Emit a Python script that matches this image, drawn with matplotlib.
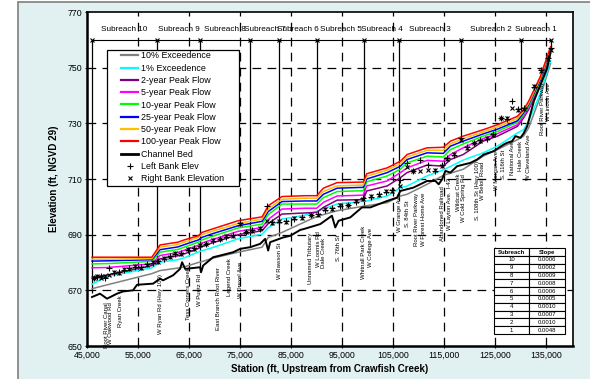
import numpy as np
import matplotlib
matplotlib.use('Agg')
import matplotlib.pyplot as plt
from matplotlib.patches import Rectangle
from matplotlib.lines import Line2D
from matplotlib.ticker import FuncFormatter

plt.rcParams['font.family'] = ['Liberation Sans', 'DejaVu Sans']

# ---------------- data ----------------
stations = [46000, 49000, 57700, 59300, 62800, 64200, 66800, 67500, 69500, 74600, 79300, 80500,
            83200, 87700, 90000, 91300, 94000, 99100, 99800, 103800, 106400, 107700, 111600,
            114800, 116200, 118700, 122600, 125400, 129300, 130500, 131500, 133800, 135800]

q100 = [681.9, 681.9, 681.9, 686.3, 687.3, 688.2, 689.6, 690.8, 692.0, 695.0, 696.4, 700.4,
        703.7, 704.0, 704.0, 706.7, 708.7, 708.9, 711.9, 714.0, 716.4, 718.8, 721.2,
        721.4, 723.6, 725.4, 727.7, 729.5, 732.5, 734.9, 737.9, 746.8, 757.5]
q50 = [681.2, 681.2, 681.4, 685.5, 686.5, 687.4, 689.0, 690.0, 691.2, 694.0, 695.6, 699.3,
       702.7, 703.1, 703.1, 705.5, 707.5, 707.8, 711.0, 713.2, 715.5, 717.9, 720.3,
       720.3, 722.6, 724.5, 726.9, 728.7, 731.7, 734.3, 737.2, 746.2, 757.0]
q25 = [680.5, 680.6, 681.0, 684.6, 685.6, 686.5, 688.1, 689.0, 690.3, 693.2, 694.8, 698.3,
       701.9, 702.1, 702.1, 704.5, 706.7, 707.0, 710.0, 712.3, 714.6, 717.0, 719.4,
       719.2, 721.8, 723.6, 726.2, 727.9, 730.9, 733.7, 736.7, 745.6, 756.5]
q10 = [679.5, 679.6, 680.4, 683.7, 684.7, 685.6, 687.3, 688.1, 689.4, 692.4, 693.8, 697.2,
       701.0, 701.0, 701.0, 703.3, 705.5, 705.8, 709.0, 711.1, 713.5, 715.8, 718.2,
       717.9, 720.6, 722.6, 725.4, 727.1, 730.4, 733.1, 736.1, 745.0, 756.0]
q5 = [678.1, 678.2, 679.5, 682.5, 683.6, 684.5, 686.2, 687.0, 688.2, 691.2, 692.6, 695.5,
      699.2, 699.5, 699.5, 701.6, 703.9, 704.2, 707.5, 709.3, 712.3, 714.0, 716.7,
      716.4, 718.8, 721.2, 724.5, 726.3, 729.5, 732.5, 735.5, 744.4, 755.5]
q2 = [674.8, 675.5, 678.9, 681.3, 682.4, 683.2, 685.0, 685.8, 687.0, 690.0, 691.4, 694.0,
      697.4, 697.8, 698.0, 699.8, 702.4, 702.6, 705.7, 707.5, 710.5, 712.3, 715.0,
      714.6, 717.0, 718.8, 723.6, 725.4, 728.9, 731.9, 734.9, 743.8, 755.0]
exc1 = [672.2, 675.0, 678.1, 680.1, 681.0, 681.8, 683.8, 684.2, 685.3, 688.5, 690.2, 692.5,
        695.6, 697.0, 698.4, 699.2, 701.0, 702.0, 702.1, 703.9, 706.9, 707.5, 711.1,
        713.3, 714.5, 716.8, 719.4, 721.8, 726.5, 727.7, 730.7, 740.8, 752.5]
exc10 = [670.6, 672.0, 676.0, 677.1, 678.0, 678.5, 680.0, 680.3, 681.5, 683.7, 685.5, 689.0,
         690.8, 694.6, 696.5, 697.2, 698.6, 700.2, 700.4, 701.5, 703.9, 704.5, 708.1,
         711.3, 712.1, 713.5, 718.2, 720.6, 724.1, 725.4, 728.3, 739.6, 751.5]

bed_sta = [45980, 47550, 48920, 50880, 52060, 54020, 54800, 57940, 59310, 59900, 61860, 63230,
           63630, 64220, 67160, 67350, 67750, 69710, 71080, 73630, 75000, 76960, 78920, 79900,
           80490, 80880, 83430, 84810, 86770, 87420, 90690, 92980, 93630, 94280, 96570, 98870,
           100500, 103770, 105730, 106380, 108930, 111620, 113240, 113890, 114560, 115200,
           116180, 117500, 120100, 121420, 122710, 124670, 126640, 127300, 128280, 128930,
           129910, 130560, 131220, 132520, 133830, 135140, 135790]
bed_elev = [667.6, 668.8, 667.0, 668.8, 669.6, 670.0, 672.0, 672.4, 674.2, 673.6, 675.4, 677.7,
            680.1, 677.7, 678.3, 676.5, 678.9, 681.9, 682.5, 683.7, 684.9, 685.5, 686.7, 688.5,
            684.3, 687.3, 689.0, 689.6, 691.7, 692.0, 693.8, 696.8, 692.6, 695.0, 696.2, 699.8,
            699.8, 702.1, 703.3, 705.7, 706.9, 709.3, 709.3, 708.1, 709.9, 712.9,
            712.3, 714.6, 715.8, 717.0, 718.8, 720.0, 722.4, 723.0, 723.6, 725.4,
            724.8, 726.5, 728.9, 737.9, 743.8, 749.8, 755.5]

bank_sta = [46300, 47000, 47800, 48600, 49400, 50300, 51200, 52200, 53300, 54400, 55600, 56800,
            57900, 59000, 60000, 61200, 62300, 63500, 64800, 66000, 67200, 68400, 69700, 71000,
            72300, 73600, 75000, 76200, 77400, 78800, 80200, 81200, 82600, 84000, 85600, 87200,
            88800, 90200, 91600, 93000, 94600, 96200, 97700, 99100, 100600, 102200, 103600,
            104800, 106300, 107700, 108800, 110200, 111800, 113200, 114500, 115600, 116800,
            118200, 119500, 120800, 122000, 123300, 124600, 126000, 127300, 128300, 129400,
            130600, 132600, 134000, 135300, 135800]
left_bank = [674.6, 674.8, 675.0, 674.6, 678.0, 676.2, 676.5, 677.2, 678.0, 678.3, 678.5, 679.3,
             680.0, 680.6, 681.2, 682.2, 683.0, 683.5, 684.5, 685.3, 686.0, 686.8, 687.8, 688.6,
             689.2, 690.0, 694.2, 690.8, 691.5, 692.0, 700.4, 694.4, 694.6, 695.0, 695.6, 696.2,
             696.9, 697.5, 698.8, 699.6, 700.2, 700.8, 701.8, 703.0, 703.6, 704.6, 705.3,
             706.0, 709.8, 715.8, 712.8, 716.9, 715.0, 712.9, 715.2, 717.6, 718.8,
             724.8, 721.5, 722.8, 724.0, 724.5, 726.0, 731.8, 731.5, 738.0, 735.0,
             735.5, 743.2, 749.2, 753.3, 756.9]
right_bank = [674.3, 675.2, 674.6, 675.0, 675.5, 676.6, 676.2, 677.6, 677.7, 678.7, 678.2, 679.0,
              680.3, 680.2, 681.5, 681.8, 683.3, 683.2, 684.9, 685.0, 686.3, 686.5, 688.1, 688.3,
              689.5, 689.7, 693.8, 691.1, 691.2, 692.3, 695.0, 694.1, 694.9, 694.7, 695.9, 695.9,
              697.2, 697.2, 699.1, 699.3, 700.5, 700.5, 702.1, 702.7, 703.9, 704.3, 705.6,
              705.7, 707.5, 714.2, 712.9, 713.0, 713.2, 713.1, 714.6, 717.2, 719.1,
              724.0, 721.2, 723.1, 723.7, 724.8, 725.7, 732.0, 731.9, 735.5, 734.7,
              735.0, 743.5, 748.8, 753.0, 756.5]

boundaries = [46000, 58700, 67200, 77000, 82650, 90100, 99300, 106200, 118300, 130100, 135800]
boundary_bottom = [669.0, 679.5, 676.5, 685.5, 689.5, 704.0, 699.8, 702.0, 725.0, 729.5, 757.0]
subreach_names = ['Subreach 10', 'Subreach 9', 'Subreach 8', 'Subreach 7', 'Subreach 6',
                  'Subreach 5', 'Subreach 4', 'Subreach 3', 'Subreach 2', 'Subreach 1']
subreach_line_elev = 760
subreach_label_elev = 763.6

road_names = ['Root River Canal', 'W Oakwood Rd', 'Ryan Creek', 'W Ryan Rd (Hwy 100)',
              'Tess Corners Creek', 'W Puetz Rd', 'East Branch Root River', 'Legend Creek',
              'W Drexel Ave.', 'W Rawson St', 'Unnamed Tributary', 'W Loomis Rd', 'Dale Creek',
              'S. 76th St', 'Whitnall Park Creek', 'W College Ave', 'W Grange Ave', 'S. 84th St',
              'Root River Parkway', 'W Forest Home Ave', 'Abandoned Railroad', 'W Layton Ave.  I-43',
              'Wildcat Creek', 'W Cold Spring Rd', 'S. 108th St (Hwy 100)', 'W Beloit Road',
              'W Morgan Ave', 'S. 116th St', 'National Ave', 'Hale Creek', 'W Cleveland Ave',
              'Root River Parkway', 'W Lincoln Ave']
road_sta = [48900, 49700, 51500, 59300, 64800, 67000, 70700, 73000, 75000, 82800, 88700, 90300,
            91300, 94200, 99100, 100500, 106200, 107700, 109500, 110900, 114700, 116000, 117800,
            118700, 121400, 122400, 125300, 126600, 128300, 129900, 131500, 134200, 135400]
road_top = [665.7, 665.7, 668.2, 676.0, 678.2, 676.0, 678.2, 681.4, 681.0, 687.3, 690.8, 691.4,
            689.0, 690.0, 693.2, 692.6, 705.1, 702.1, 705.1, 705.1, 707.5, 710.5, 711.9,
            711.9, 716.4, 716.4, 720.0, 720.6, 723.6, 723.6, 726.0, 745.0, 744.4]

table_subreach = ['10', '9', '8', '7', '6', '5', '4', '3', '2', '1']
table_slope = ['0.0006', '0.0002', '0.0009', '0.0008', '0.0006', '0.0005', '0.0010',
               '0.0007', '0.0010', '0.0048']

x_ticks = [45000, 55000, 65000, 75000, 85000, 95000, 105000, 115000, 125000, 135000]
y_ticks = [650, 670, 690, 710, 730, 750, 770]

# ---------------- figure ----------------
W, H = 590, 379
fig = plt.figure(figsize=(W / 100, H / 100), dpi=100)
fig.patch.set_facecolor('white')
fig.patches.append(Rectangle((18 / W, -0.02), 1.05, 1 - 2 / H + 0.02, transform=fig.transFigure,
                             facecolor='#e1f1f1', edgecolor='#7f7f7f', lw=1.2, zorder=-10))

ax = fig.add_axes([87 / W, 33 / H, 486 / W, 334 / H])
ax.set_facecolor('white')
ax.set_xlim(45000, 140200)
ax.set_ylim(650, 770)

dash = (0, (7, 5))
for xv in x_ticks[1:]:
    ax.axvline(xv, color='k', lw=0.9, ls=dash, zorder=1)
for yv in y_ticks[1:-1]:
    ax.axhline(yv, color='k', lw=0.9, ls=dash, zorder=1)

# subreach markers
ax.vlines(boundaries, boundary_bottom, subreach_line_elev, colors='k', lw=0.9, zorder=2)
ax.plot([boundaries[0], boundaries[-1]], [subreach_line_elev] * 2, color='k', lw=0.8, zorder=2)
ax.plot(boundaries, [subreach_line_elev] * len(boundaries), ls='none', marker='x', ms=3.5,
        mew=0.8, color='k', zorder=3)
for i, name in enumerate(subreach_names):
    xc = 0.5 * (boundaries[i] + boundaries[i + 1])
    ax.text(xc, subreach_label_elev, name, ha='center', va='center', fontsize=5.9, zorder=4)

series = [
    ('10% Exceedence', exc10, '#808080'),
    ('1% Exceedence', exc1, '#00ffff'),
    ('2-year Peak Flow', q2, '#800080'),
    ('5-year Peak Flow', q5, '#ff00ff'),
    ('10-year Peak Flow', q10, '#00ff00'),
    ('25-year Peak Flow', q25, '#0000ff'),
    ('50-year Peak Flow', q50, '#ffc000'),
    ('100-year Peak Flow', q100, '#ff0000'),
]
handles = []
for lab, vals, col in series:
    ax.plot(stations, vals, color=col, lw=1.1, zorder=5)
    handles.append(Line2D([], [], color=col, lw=1.6, label=lab))

ax.plot(bed_sta, bed_elev, color='k', lw=1.4, zorder=6)
handles.append(Line2D([], [], color='k', lw=2.0, label='Channel Bed'))
ax.plot(bank_sta, left_bank, ls='none', marker='+', ms=4, mew=0.8, color='k', zorder=7)
ax.plot(bank_sta, right_bank, ls='none', marker='x', ms=3.5, mew=0.8, color='k', zorder=7)
handles.append(Line2D([], [], ls='none', marker='+', ms=4, mew=0.8, color='k', label='Left Bank Elev'))
handles.append(Line2D([], [], ls='none', marker='x', ms=3.5, mew=0.8, color='k', label='Right Bank Elevation'))

for name, s, t in zip(road_names, road_sta, road_top):
    ax.text(s, t, name, rotation=90, ha='center', va='top', fontsize=4.3, zorder=8)

# legend: custom frame box + frameless legend entries
ax.add_patch(Rectangle((0.0412, 0.479), 0.2716, 0.4072, transform=ax.transAxes,
                       facecolor='white', edgecolor='k', lw=0.9, zorder=19))
leg = ax.legend(handles=handles, loc='upper left', bbox_to_anchor=(0.070, 0.882),
                fontsize=6.4, frameon=False, borderaxespad=0, borderpad=0,
                handlelength=1.95, labelspacing=0.37, handletextpad=0.3)
leg.set_zorder(20)

# slope table
cells = [[a, b] for a, b in zip(table_subreach, table_slope)]
tb = ax.table(cellText=cells, colLabels=['Subreach', 'Slope'], cellLoc='center',
              bbox=[0.8374, 0.036, 0.146, 0.257], zorder=15)
tb.auto_set_font_size(False)
tb.set_fontsize(4.3)
for (r, c), cell in tb.get_celld().items():
    cell.set_linewidth(0.8)
    cell.set_edgecolor('k')
    cell.set_facecolor('white')
    cell.PAD = 0.02
    if r == 0:
        cell.get_text().set_fontweight('bold')

ax.set_xticks(x_ticks)
ax.set_yticks(y_ticks)
ax.xaxis.set_major_formatter(FuncFormatter(lambda v, p: f'{int(v):,}'))
ax.tick_params(labelsize=6.3, length=3, width=0.8, direction='inout', pad=2)
for side in ['left', 'bottom']:
    ax.spines[side].set_linewidth(1.8)
for side in ['top', 'right']:
    ax.spines[side].set_linewidth(1.2)

ax.set_xlabel('Station (ft, Upstream from Crawfish Creek)', fontsize=7, fontweight='bold', labelpad=3)
ax.set_ylabel('Elevation (ft, NGVD 29)', fontsize=7, fontweight='bold', labelpad=6)

fig.savefig('out.png', dpi=100)
